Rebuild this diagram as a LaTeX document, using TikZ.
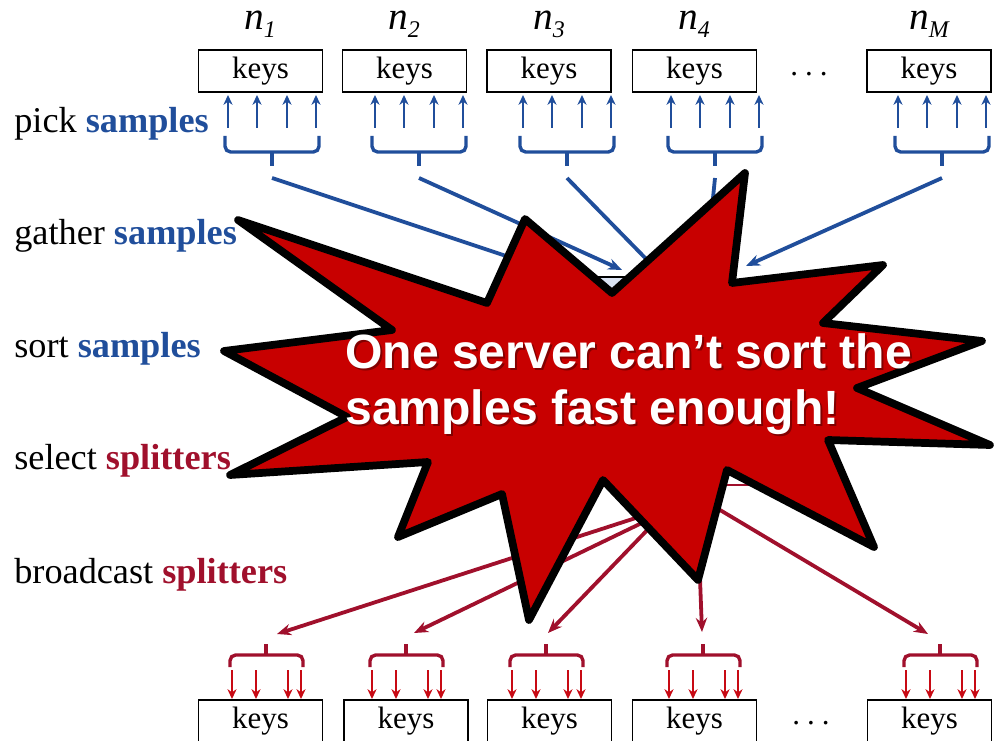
\documentclass[tikz,border=0pt]{standalone}
\usepackage{fontspec}
\setmainfont{Liberation Serif}
\newfontfamily\msgfont{Liberation Sans}
\usepackage{tikz}
\usetikzlibrary{arrows.meta}
\definecolor{smpblue}{RGB}{32,78,155}
\definecolor{splred}{RGB}{160,16,44}
\definecolor{arrred}{RGB}{200,10,20}
\definecolor{starred}{RGB}{200,0,0}
\definecolor{smpfill}{RGB}{218,227,243}
\tikzset{keybox/.style={draw,line width=1.3pt,minimum width=3.1cm,minimum height=1.05cm,inner sep=0pt,font=\fontsize{22}{22}\selectfont},
  nlab/.style={anchor=base,inner sep=0pt,font=\fontsize{28}{28}\selectfont\itshape},
  steplab/.style={anchor=base west,inner sep=0pt,font=\fontsize{25.8}{26}\selectfont},
  brc/.style={line width=2.4pt,rounded corners=4pt},
  sarr/.style={->,line width=1.7pt,>={Stealth[length=7pt,width=6.5pt]}},
  link/.style={->,line width=2.7pt},
  burst/.style={fill=starred,draw=black,line width=5.5pt,line join=round}}
\newcommand{\smp}{\textcolor{smpblue}{\bfseries samples}}
\newcommand{\spl}{\textcolor{splred}{\bfseries splitters}}
\newcommand{\nsub}[1]{\raisebox{-5pt}{\fontsize{17}{17}\selectfont #1}}
\newcommand{\sdots}{\raisebox{3pt}{.\hspace{5pt}.\hspace{5pt}.}}

\begin{document}
\begin{tikzpicture}[x=0.025cm,y=-0.025cm,>={Stealth[length=10pt,width=8pt]}]
    \useasboundingbox (0,0) rectangle (994,741);

    \node[steplab] (pick) at (14,133) {pick \smp};
    \node[steplab] (gather) at (14,245) {gather \smp};
    \node[steplab] (sort) at (14,358) {sort \smp};
    \node[steplab] (select) at (14,470) {select \spl};
    \node[steplab] (bcast) at (14,583) {broadcast \spl};

    \node[keybox] (t1) at (260.5,71) {keys};
    \node[keybox] (t2) at (404.5,71) {keys};
    \node[keybox] (t3) at (549,71) {keys};
    \node[keybox] (t4) at (694.5,71) {keys};
    \node[keybox] (t5) at (929,71) {keys};
    \node[anchor=base,font=\fontsize{22}{22}\selectfont] (tdots) at (809,80) {\sdots};

    \node[nlab] (n1) at (260,30) {n\nsub{1}};
    \node[nlab] (n2) at (404,30) {n\nsub{2}};
    \node[nlab] (n3) at (549,30) {n\nsub{3}};
    \node[nlab] (n4) at (694,30) {n\nsub{4}};
    \node[nlab] (nM) at (929,30) {n\nsub{M}};

    \node[keybox] (b1) at (260.5,721) {keys};
    \node[keybox] (b2) at (406,721) {keys};
    \node[keybox] (b3) at (549.5,721) {keys};
    \node[keybox] (b4) at (694.5,721) {keys};
    \node[keybox] (b5) at (929.5,721) {keys};
    \node[anchor=base,font=\fontsize{22}{22}\selectfont] (bdots) at (811,729) {\sdots};

    \foreach \i/\bl in {1/225,2/372,3/520,4/668,5/895}{
        \draw[brc,smpblue] (\bl,136) -- (\bl,152) -- (\bl+94,152) -- (\bl+94,136);
        \draw[line width=2.4pt,smpblue] (\bl+47,152) -- (\bl+47,166);
        \foreach \d in {3,32,62,91}
            \draw[sarr,smpblue] (\bl+\d,128) -- (\bl+\d,95);
        \coordinate (g\i) at (\bl+47,178);
    }
    \foreach \i/\al in {1/232,2/372,3/512,4/669,5/906}{
        \draw[brc,splred] (\al-2,667) -- (\al-2,655) -- (\al+71,655) -- (\al+71,667);
        \draw[line width=2.4pt,splred] (\al+34,655) -- (\al+34,644);
        \foreach \d in {0,24,56,69}
            \draw[sarr,arrred] (\al+\d,670) -- (\al+\d,699);
    }

    \node[draw,fill=smpfill,line width=1pt,minimum width=4.25cm,minimum height=0.75cm] (sbox) at (642,292) {};
    \coordinate (e1) at (560,274);
    \coordinate (e2) at (622,270);
    \coordinate (e3) at (655,268);
    \coordinate (e4) at (706,268);
    \coordinate (e5) at (746,266);
    \foreach \i in {1,...,5}
        \draw[link,smpblue] (g\i) -- (e\i);

    \coordinate (sa) at (640,485);
    \coordinate (sb) at (770,485);
    \draw[line width=2pt,splred] (sa) -- (sb);
    \coordinate (o1) at (645,515);
    \coordinate (o2) at (648,520);
    \coordinate (o3) at (655,522);
    \coordinate (o4) at (698,525);
    \coordinate (o5) at (720,510);
    \coordinate (d1) at (277,634);
    \coordinate (d2) at (414,633);
    \coordinate (d3) at (548,633);
    \coordinate (d4) at (702,632);
    \coordinate (d5) at (928,634);
    \foreach \i in {1,...,5}
        \draw[link,splred] (o\i) -- (d\i);

    \draw[burst] (238,220) -- (487,303) -- (525,219) -- (612,293) -- (745,173) -- (732,283)
        -- (883,265) -- (823,323) -- (982,341) -- (857,388) -- (990,445) -- (828,440)
        -- (874,547) -- (727,470) -- (698,580) -- (603,480) -- (529,620) -- (502,494)
        -- (398,537) -- (428,462) -- (230,475) -- (347,417) -- (224,351) -- (392,330) -- cycle;

    \node[anchor=base west,align=left,inner sep=0pt,text=black,opacity=.35,font=\msgfont\bfseries\fontsize{34.2}{40.5}\selectfont] (msgsh) at (347,427) {One server can’t sort the\\samples fast enough!};
    \node[anchor=base west,align=left,inner sep=0pt,text=white,font=\msgfont\bfseries\fontsize{34.2}{40.5}\selectfont] (msg) at (345,425) {One server can’t sort the\\samples fast enough!};
\end{tikzpicture}
\end{document}
